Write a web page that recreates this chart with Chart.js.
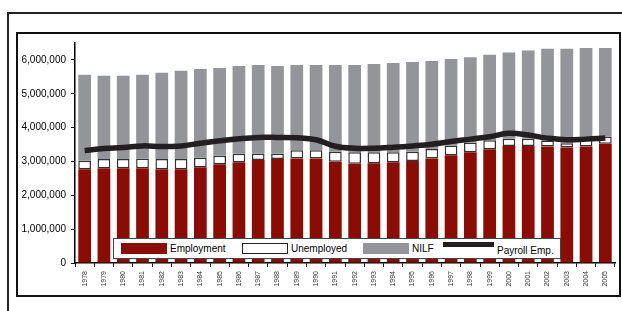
<!DOCTYPE html>
<html>
<head>
<meta charset="utf-8">
<script src="https://cdn.jsdelivr.net/npm/chart.js@4.4.1/dist/chart.umd.min.js"></script>
<style>
  html, body { margin:0; padding:0; background:#fff; }
  body { width:622px; height:311px; position:relative; overflow:hidden; font-family:"Liberation Sans", Arial, sans-serif; }
  #outer { position:absolute; left:7px; top:12px; width:640px; height:320px; border-left:2px solid #222; border-top:2px solid #222; }
  #inner { position:absolute; left:16px; top:32px; width:601px; height:261px; border:2px solid #111; }
  #wrap { position:absolute; left:0; top:0; width:622px; height:311px; }
  #legend { position:absolute; left:113px; top:238px; width:446px; height:19px; border:1px solid #444; background:#fff; font-size:10px; color:#000; }
  .sw { position:absolute; }
  .lt { position:absolute; line-height:10px; }
</style>
</head>
<body>
<div id="outer"></div>
<div id="inner"></div>
<div id="wrap"><canvas id="c" width="622" height="311"></canvas></div>
<div id="legend">
  <div class="sw" style="left:7px;top:4px;width:46px;height:11px;background:#8b0c04;"></div>
  <div class="lt" style="left:56px;top:5px;">Employment</div>
  <div class="sw" style="left:128px;top:4px;width:44px;height:9px;background:#fff;border:1px solid #222;"></div>
  <div class="lt" style="left:177px;top:5px;">Unemployed</div>
  <div class="sw" style="left:249px;top:4px;width:46px;height:11px;background:#939598;"></div>
  <div class="lt" style="left:298px;top:5px;">NILF</div>
  <div class="sw" style="left:329px;top:3px;width:51px;height:5px;background:#231f20;"></div>
  <div class="lt" style="left:383px;top:7px;">Payroll Emp.</div>
</div>
<script>
const categories = ["1978","1979","1980","1981","1982","1983","1984","1985","1986","1987","1988","1989","1990","1991","1992","1993","1994","1995","1996","1997","1998","1999","2000","2001","2002","2003","2004","2005"];
const employment = [2770000,2800000,2800000,2800000,2770000,2770000,2830000,2920000,2980000,3040000,3070000,3090000,3090000,2990000,2930000,2950000,2980000,3010000,3090000,3180000,3270000,3360000,3460000,3460000,3440000,3410000,3440000,3520000];
const unemployed = [250000,270000,270000,290000,300000,300000,280000,250000,250000,190000,160000,240000,240000,300000,340000,320000,290000,280000,280000,290000,290000,270000,210000,210000,180000,130000,200000,210000];
const nilf = [2540000,2460000,2460000,2470000,2550000,2610000,2620000,2590000,2590000,2620000,2590000,2520000,2520000,2560000,2580000,2610000,2640000,2650000,2600000,2560000,2520000,2520000,2550000,2610000,2710000,2790000,2710000,2620000];
const payroll = [3320000,3380000,3410000,3460000,3440000,3460000,3540000,3610000,3670000,3710000,3710000,3700000,3640000,3450000,3390000,3390000,3420000,3460000,3510000,3590000,3660000,3730000,3830000,3780000,3690000,3640000,3660000,3690000];
const yTicks = [0,1000000,2000000,3000000,4000000,5000000,6000000];

new Chart(document.getElementById('c'), {
  type: 'bar',
  data: {
    labels: categories,
    datasets: [
      { type:'line', label:'Payroll Emp.', data: payroll, borderColor:'#231f20', borderWidth:5.5, pointRadius:0, tension:0.4, fill:false, order:0, stack:'payroll' },
      { label:'Employment', data: employment, backgroundColor:'#8b0c04', borderWidth:0, order:1, stack:'s' },
      { label:'Unemployed', data: unemployed, backgroundColor:'#ffffff', borderColor:'#333', borderWidth:1.5, borderSkipped:false, order:1, stack:'s' },
      { label:'NILF', data: nilf, backgroundColor:'#939598', borderWidth:0, order:1, stack:'s' }
    ]
  },
  options: {
    responsive:false,
    animation:false,
    devicePixelRatio:1,
    layout:{ padding:{ left:0, top:43, right:7, bottom:0 } },
    plugins:{ legend:{ display:false }, tooltip:{ enabled:false } },
    datasets:{ bar:{ barPercentage:0.66, categoryPercentage:1.0 } },
    scales:{
      x:{
        stacked:true,
        offset:true,
        grid:{ offset:true, drawOnChartArea:false, drawTicks:true, tickLength:4, color:'#000', lineWidth:1 },
        border:{ display:true, color:'#000', width:1.5 },
        ticks:{ autoSkip:false, minRotation:90, maxRotation:90, padding:4, color:'#333', font:{ family:'"Liberation Sans", Arial', size:7 } },
        afterFit:(s)=>{ s.height = 48; }
      },
      y:{
        stacked:true,
        min:0, max:6500000,
        grid:{ drawOnChartArea:false, drawTicks:true, tickLength:4, color:'#000', lineWidth:1 },
        border:{ display:true, color:'#000', width:1.5 },
        ticks:{ stepSize:1000000, padding:5, color:'#000', font:{ family:'"Liberation Sans", Arial', size:10 },
          callback:(v)=> v.toLocaleString('en-US') },
        afterBuildTicks:(s)=>{ s.ticks = yTicks.map(v=>({value:v})); },
        afterFit:(s)=>{ s.width = 75; }
      }
    }
  }
});
</script>
</body>
</html>
